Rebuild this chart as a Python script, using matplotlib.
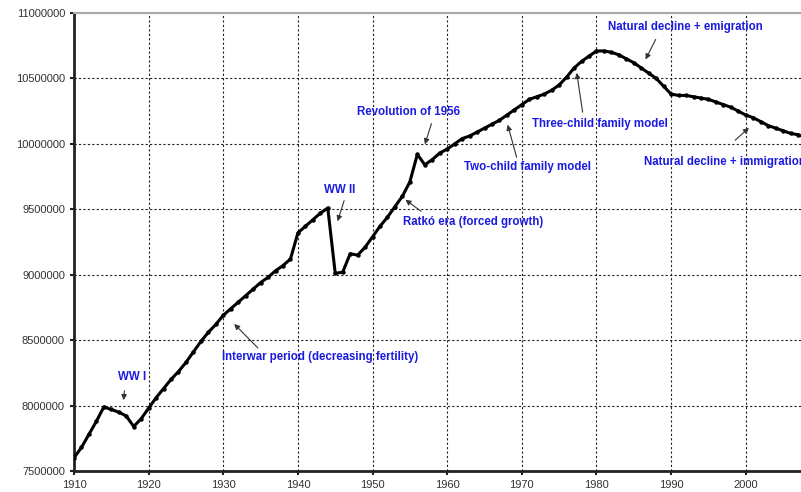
import matplotlib.pyplot as plt

plt.rcParams['font.family'] = ['Liberation Sans', 'DejaVu Sans']

# Hungarian population, 1910-2008
years = list(range(1910, 2009))
population = [
    7600000, 7680000, 7780000, 7880000, 7990000, 7970000, 7950000, 7920000, 7840000, 7900000,
    7980000, 8060000, 8130000, 8200000, 8260000, 8330000, 8410000, 8490000, 8560000, 8620000,
    8690000, 8740000, 8790000, 8840000, 8890000, 8940000, 8980000, 9030000, 9070000, 9120000,
    9320000, 9370000, 9420000, 9470000, 9510000, 9010000, 9020000, 9160000, 9150000, 9210000,
    9290000, 9370000, 9440000, 9520000, 9600000, 9710000, 9920000, 9840000, 9880000, 9930000,
    9960000, 10000000, 10040000, 10060000, 10090000, 10120000, 10150000, 10180000, 10220000, 10260000,
    10300000, 10340000, 10360000, 10380000, 10410000, 10450000, 10510000, 10580000, 10630000, 10670000,
    10710000, 10710000, 10700000, 10680000, 10650000, 10620000, 10580000, 10540000, 10500000, 10440000,
    10380000, 10370000, 10370000, 10360000, 10350000, 10340000, 10320000, 10300000, 10280000, 10250000,
    10220000, 10200000, 10170000, 10140000, 10120000, 10100000, 10080000, 10070000, 10050000,
]

x_ticks = list(range(1910, 2001, 10))
y_ticks = list(range(7500000, 11000001, 500000))

# label text, text position, arrow tail, arrow tip
notes = [
    ('WW I', (1917.8, 8218000), (1916.8, 8134000), (1916.6, 8020000), 'center'),
    ('Interwar period (decreasing fertility)', (1929.8, 8371000), (1934.9, 8425000), (1931.2, 8639000), 'left'),
    ('WW II', (1945.6, 9647000), (1946.3, 9586000), (1945.2, 9388000), 'center'),
    ('Ratkó era (forced growth)', (1954.1, 9403000), (1956.8, 9472000), (1954.1, 9586000), 'left'),
    ('Revolution of 1956', (1947.9, 10243000), (1958.0, 10175000), (1956.9, 9976000), 'left'),
    ('Two-child family model', (1962.3, 9823000), (1969.4, 9877000), (1968.0, 10167000), 'left'),
    ('Three-child family model', (1971.4, 10152000), (1978.2, 10221000), (1977.3, 10564000), 'left'),
    ('Natural decline + emigration', (1981.6, 10893000), (1988.1, 10817000), (1986.4, 10626000), 'left'),
    ('Natural decline + immigration', (1986.4, 9861000), (1998.3, 10014000), (2000.7, 10136000), 'left'),
]

fig = plt.figure(figsize=(8.01, 4.92), dpi=100)
ax = fig.add_axes([74 / 801, 21 / 492, 1 - 74 / 801, 458 / 492])

ax.plot(years, population, color='black', linewidth=2.2, marker='o', markersize=2.2, zorder=3)

ax.set_xlim(1910, 2007.4)
ax.set_ylim(7500000, 11000000)
ax.set_xticks(x_ticks)
ax.set_yticks(y_ticks)
ax.ticklabel_format(style='plain', useOffset=False)
ax.grid(True, color='#222222', linestyle=(0, (2, 2)), linewidth=0.8)

for side in ['left', 'bottom']:
    ax.spines[side].set_linewidth(2)
    ax.spines[side].set_color('#222222')
ax.spines['top'].set_color('#aaaaaa')
ax.spines['top'].set_linewidth(1.5)
ax.spines['right'].set_visible(False)
ax.tick_params(direction='out', length=3, width=1.5, labelsize=8, labelcolor='#333333', color='#222222')

for text, pos, tail, tip, ha in notes:
    ax.text(pos[0], pos[1], text, color='#1a1ae0', fontsize=8.3, fontweight='bold',
            ha=ha, va='center', clip_on=False)
    ax.annotate('', xy=tip, xytext=tail,
                arrowprops=dict(arrowstyle='-|>', color='#333333', lw=0.8, mutation_scale=8))

fig.savefig('out.png', dpi=100)
